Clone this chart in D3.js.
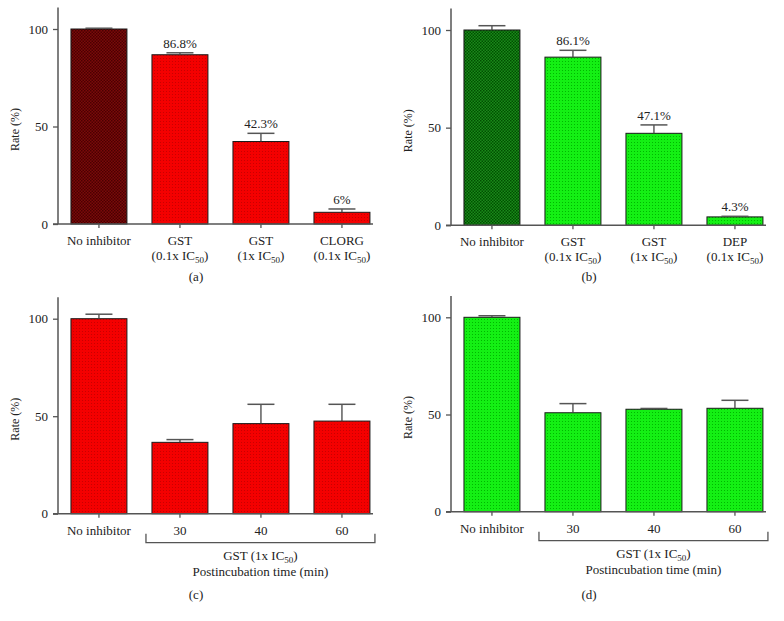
<!DOCTYPE html>
<html><head><meta charset="utf-8">
<script src="https://cdn.jsdelivr.net/npm/d3@7"></script>
<style>body{margin:0;background:#fff}svg{display:block}text{font-family:"Liberation Serif","DejaVu Serif",serif;fill:#222}</style>
</head><body>
<svg id="c" width="784" height="621"></svg>
<script>
// ---- data ----
const catsTop = [["No inhibitor"], ["GST", "(0.1x IC|50|)"], ["GST", "(1x IC|50|)"], ["CLORG", "(0.1x IC|50|)"]];
const catsTopB = [["No inhibitor"], ["GST", "(0.1x IC|50|)"], ["GST", "(1x IC|50|)"], ["DEP", "(0.1x IC|50|)"]];
const catsBottom = [["No inhibitor"], ["30"], ["40"], ["60"]];
const valsA = [100, 86.8, 42.3, 6];
const errA = [0.4, 1.0, 4.2, 1.7];
const labA = ["", "86.8%", "42.3%", "6%"];
const valsB = [100, 86.1, 47.1, 4.3];
const errB = [2.2, 3.5, 4.3, 0.3];
const labB = ["", "86.1%", "47.1%", "4.3%"];
const valsC = [100, 36.6, 46.2, 47.5];
const errC = [2.3, 1.4, 9.9, 8.6];
const valsD = [100, 50.9, 52.7, 53.2];
const errD = [0.8, 4.7, 0.4, 4.1];
const yTicks = [0, 50, 100];
const panelLetters = ["(a)", "(b)", "(c)", "(d)"];
const bracketTitle = ["GST (1x IC|50|)", "Postincubation time (min)"];

const svg = d3.select("#c");
const defs = svg.append("defs");
function pat(id, base, dot, checker) {
  const p = defs.append("pattern").attr("id", id).attr("patternUnits", "userSpaceOnUse").attr("width", 3).attr("height", 3);
  p.append("rect").attr("width", 3).attr("height", 3).attr("fill", base);
  if (checker) {
    p.append("rect").attr("width", 1.5).attr("height", 1.5).attr("fill", dot);
    p.append("rect").attr("x", 1.5).attr("y", 1.5).attr("width", 1.5).attr("height", 1.5).attr("fill", dot);
  } else {
    p.append("rect").attr("x", 1).attr("y", 1).attr("width", 1).attr("height", 1).attr("fill", dot);
  }
}
pat("red", "#f40000", "#c80000", false);
pat("dred", "#7a0a0a", "#4a0000", true);
pat("green", "#14f014", "#00b800", false);
pat("dgreen", "#1a8a1a", "#004f00", true);

function richText(sel, str, smallSize) {
  const parts = str.split("|");
  parts.forEach((p, i) => {
    if (!p) return;
    const t = sel.append("tspan").text(p);
    if (i % 2 === 1) { t.attr("font-size", smallSize).attr("dy", 3); }
    else if (i > 0) { t.attr("dy", -3); }
  });
}

function panel(o) {
  const g = svg.append("g");
  const y = d3.scaleLinear().domain([0, 100]).range([o.y0, o.y100]);
  const x = d3.scaleBand().domain(d3.range(4)).range([o.ax, o.ax + 81 * 4.011]).paddingInner(0.309).paddingOuter(0.16);
  const yTop = y(111);
  // bars
  g.selectAll("rect.bar").data(o.vals).join("rect")
    .attr("x", (d, i) => x(i)).attr("width", x.bandwidth())
    .attr("y", d => y(d)).attr("height", d => y(0) - y(d))
    .attr("fill", (d, i) => i === 0 ? `url(#${o.dark})` : `url(#${o.light})`)
    .attr("stroke", "#1a1a1a").attr("stroke-width", 1);
  // error bars
  const eb = g.selectAll("g.err").data(o.vals).join("g");
  eb.append("line").attr("x1", (d, i) => x(i) + x.bandwidth() / 2).attr("x2", (d, i) => x(i) + x.bandwidth() / 2)
    .attr("y1", d => y(d)).attr("y2", (d, i) => y(d + o.err[i])).attr("stroke", "#444").attr("stroke-width", 1.3);
  eb.append("line").attr("x1", (d, i) => x(i) + x.bandwidth() / 2 - 13.5).attr("x2", (d, i) => x(i) + x.bandwidth() / 2 + 13.5)
    .attr("y1", (d, i) => y(d + o.err[i])).attr("y2", (d, i) => y(d + o.err[i])).attr("stroke", "#555").attr("stroke-width", 1.5);
  // value labels
  if (o.labs) {
    g.selectAll("text.val").data(o.vals).join("text")
      .attr("x", (d, i) => x(i) + x.bandwidth() / 2).attr("y", (d, i) => y(d + o.err[i]) - 5)
      .attr("text-anchor", "middle").attr("font-size", 13).text((d, i) => o.labs[i]);
  }
  // y axis
  const yAxis = d3.axisLeft(y).tickValues(yTicks).tickSize(5).tickPadding(5);
  const ya = g.append("g").attr("transform", `translate(${o.ax},0)`).call(yAxis);
  ya.select(".domain").remove();
  ya.selectAll("line").attr("stroke", "#555").attr("stroke-width", 1.3);
  ya.selectAll("text").attr("font-size", 13).attr("font-family", '"Liberation Serif",serif').attr("fill", "#222");
  g.append("line").attr("x1", o.ax).attr("x2", o.ax).attr("y1", yTop).attr("y2", y(0)).attr("stroke", "#555").attr("stroke-width", 1.5);
  // x axis
  g.append("line").attr("x1", o.ax - 5).attr("x2", o.ax + 315).attr("y1", y(0)).attr("y2", y(0)).attr("stroke", "#555").attr("stroke-width", 1.5);
  g.selectAll("line.xt").data(d3.range(4)).join("line")
    .attr("x1", i => x(i) + x.bandwidth() / 2).attr("x2", i => x(i) + x.bandwidth() / 2)
    .attr("y1", y(0)).attr("y2", y(0) + 4).attr("stroke", "#555").attr("stroke-width", 1.3);
  // y label
  g.append("text").attr("transform", `translate(${o.ax - 39},${(y(0) + y(100)) / 2 + 3}) rotate(-90)`)
    .attr("text-anchor", "middle").attr("font-size", 12).text("Rate (%)");
  // category labels
  o.cats.forEach((c, i) => {
    c.forEach((line, k) => {
      const t = g.append("text").attr("x", x(i) + x.bandwidth() / 2).attr("y", y(0) + 21 + k * 14.5)
        .attr("text-anchor", "middle").attr("font-size", 13);
      richText(t, line, 9);
    });
  });
  // bracket
  if (o.bracket) {
    const bx1 = x(1) - 6, bx2 = x(3) + x.bandwidth() + 5, by = y(0) + 29;
    g.append("path").attr("d", `M${bx1},${by - 9}V${by}H${bx2}V${by - 9}`).attr("fill", "none").attr("stroke", "#555").attr("stroke-width", 1.3);
    const cx = (bx1 + bx2) / 2;
    bracketTitle.forEach((s, k) => {
      const t = g.append("text").attr("x", cx).attr("y", by + 17 + k * 16.5).attr("text-anchor", "middle").attr("font-size", 13);
      richText(t, s, 9);
    });
  }
  g.append("text").attr("x", o.ax + 138).attr("y", o.letterY).attr("text-anchor", "middle").attr("font-size", 13).text(o.letter);
}

panel({ax: 58, y0: 224, y100: 29, vals: valsA, err: errA, labs: labA, cats: catsTop, dark: "dred", light: "red", letter: panelLetters[0], letterY: 281});
panel({ax: 451, y0: 225.3, y100: 30, vals: valsB, err: errB, labs: labB, cats: catsTopB, dark: "dgreen", light: "green", letter: panelLetters[1], letterY: 281});
panel({ax: 58, y0: 513.7, y100: 318.7, vals: valsC, err: errC, labs: null, cats: catsBottom, dark: "red", light: "red", letter: panelLetters[2], letterY: 599, bracket: true});
panel({ax: 451, y0: 511.7, y100: 317.3, vals: valsD, err: errD, labs: null, cats: catsBottom, dark: "green", light: "green", letter: panelLetters[3], letterY: 599, bracket: true});
</script>
</body></html>
